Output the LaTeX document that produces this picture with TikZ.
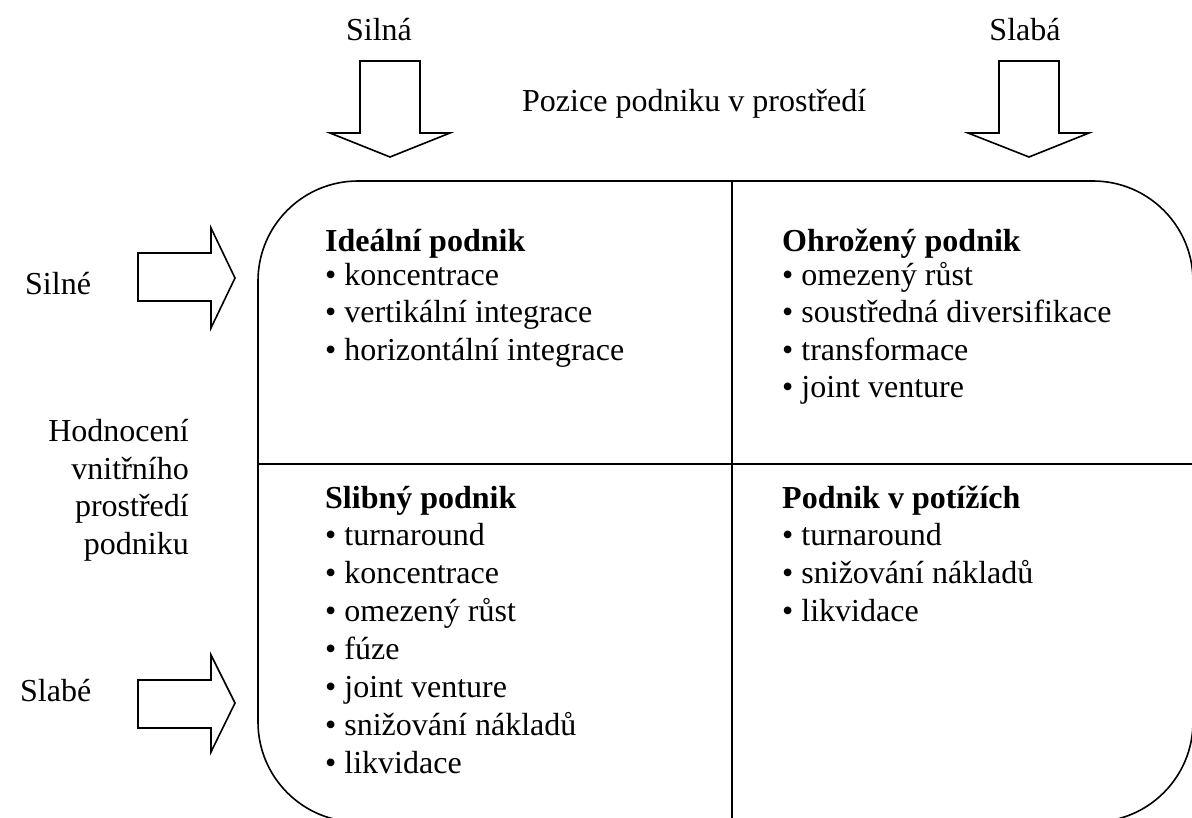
\documentclass[tikz,border=0pt]{standalone}
\usepackage{fontspec}
\setmainfont{Liberation Serif}
\begin{document}
\begin{tikzpicture}[x=1pt,y=-1pt,
  lbl/.style={anchor=base west,inner sep=0pt,font=\fontsize{32}{38}\selectfont},
  clbl/.style={anchor=base,inner sep=0pt,font=\fontsize{32}{38}\selectfont},
  head/.style={lbl,font=\fontsize{32}{38}\selectfont\bfseries},
  outline/.style={draw=black,line width=1.6pt,line join=miter},
  divider/.style={draw=black,line width=1.4pt}]
\useasboundingbox (0,0) rectangle (1192,818);

% matrix frame and quadrant dividers
\begin{scope}
\clip (0,0) rectangle (1192,818);
\draw[outline] (258,181) [rounded corners=100pt] -- (1193,181) -- (1193,822) -- (258,822) -- cycle;
\end{scope}
\coordinate (vt) at (732,181);
\coordinate (vb) at (732,818);
\coordinate (hl) at (258,464);
\coordinate (hr) at (1192,464);
\draw[divider] (vt) -- (vb);
\draw[divider] (hl) -- (hr);

% block arrows at the top
\draw[outline] (360,61) -- (420,61) -- (420,133) -- (450,133) -- (390,157) -- (330,133) -- (360,133) -- cycle;
\draw[outline] (999,61) -- (1059,61) -- (1059,133) -- (1089,133) -- (1029,157) -- (968,133) -- (999,133) -- cycle;
% block arrows on the left
\draw[outline] (138,253) -- (211,253) -- (211,228) -- (235,278) -- (211,328) -- (211,301) -- (138,301) -- cycle;
\draw[outline] (138,680) -- (211,680) -- (211,655) -- (235,703) -- (211,752) -- (211,728) -- (138,728) -- cycle;

% axis labels
\node[clbl] (silna) at (379,41) {Silná};
\node[clbl] (slaba) at (1025,41) {Slabá};
\node[lbl] (pozice) at (522,112) {Pozice podniku v prostředí};
\node[lbl] (silne) at (25,295) {Silné};
\node[lbl] (slabe) at (20,701) {Slabé};
\node[anchor=base east,inner sep=0pt,align=right,font=\fontsize{32}{37.5}\selectfont] (hodn) at (189,554)
  {Hodnocení\\vnitřního\\prostředí\\podniku};

% quadrant: top left
\node[head] (q1) at (325,252) {Ideální podnik};
\node[lbl] (q1a) at (325,286) {• koncentrace};
\node[lbl] (q1b) at (325,323) {• vertikální integrace};
\node[lbl] (q1c) at (325,361) {• horizontální integrace};

% quadrant: top right
\node[head] (q2) at (782,252) {Ohrožený podnik};
\node[lbl] (q2a) at (782,286) {• omezený růst};
\node[lbl] (q2b) at (782,323) {• soustředná diversifikace};
\node[lbl] (q2c) at (782,361) {• transformace};
\node[lbl] (q2d) at (782,398) {• joint venture};

% quadrant: bottom left
\node[head] (q3) at (325,508) {Slibný podnik};
\node[lbl] (q3a) at (325,545) {• turnaround};
\node[lbl] (q3b) at (325,583) {• koncentrace};
\node[lbl] (q3c) at (325,621) {• omezený růst};
\node[lbl] (q3d) at (325,659) {• fúze};
\node[lbl] (q3e) at (325,697) {• joint venture};
\node[lbl] (q3f) at (325,735) {• snižování nákladů};
\node[lbl] (q3g) at (325,773) {• likvidace};

% quadrant: bottom right
\node[head] (q4) at (782,508) {Podnik v potížích};
\node[lbl] (q4a) at (782,545) {• turnaround};
\node[lbl] (q4b) at (782,583) {• snižování nákladů};
\node[lbl] (q4c) at (782,621) {• likvidace};
\end{tikzpicture}
\end{document}
